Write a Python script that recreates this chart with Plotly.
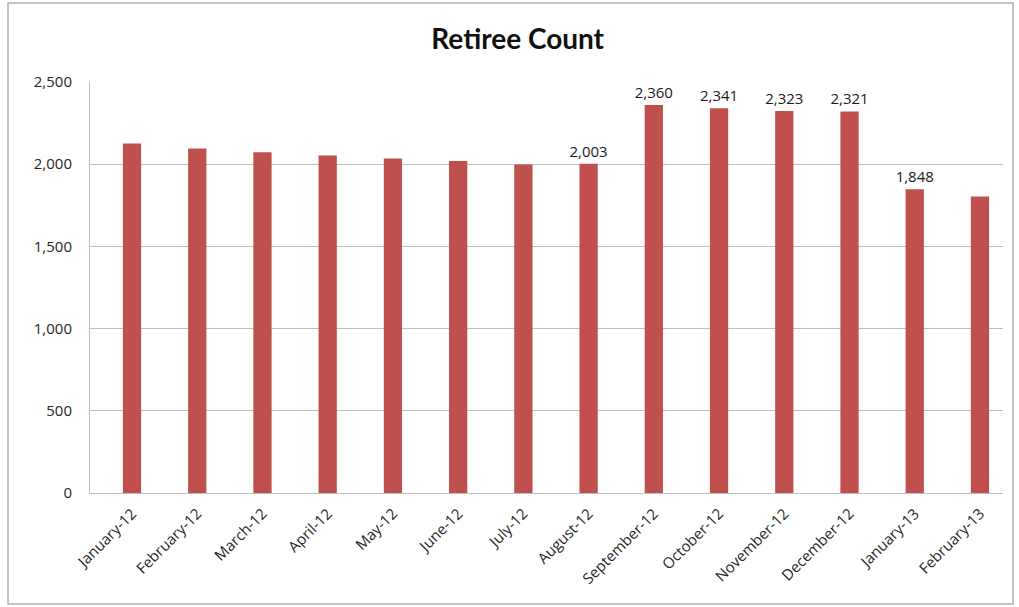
import plotly.graph_objects as go

months = ["January-12", "February-12", "March-12", "April-12", "May-12", "June-12",
          "July-12", "August-12", "September-12", "October-12", "November-12",
          "December-12", "January-13", "February-13"]
retirees = [2126, 2095, 2073, 2053, 2035, 2020, 1998, 2003, 2360, 2341, 2323, 2321, 1848, 1803]
shown_labels = [False, False, False, False, False, False, False, True, True, True, True, True, True, False]

labels = [f"{v:,}" if s else "" for v, s in zip(retirees, shown_labels)]

fig = go.Figure(go.Bar(
    x=list(range(len(months))),
    y=retirees,
    width=0.28,
    marker=dict(color="#c0504d", line=dict(width=0)),
    text=labels,
    textposition="outside",
    constraintext="none",
    textfont=dict(family="Open Sans, Lato, sans-serif", size=15, color="#1a1a1a"),
    cliponaxis=False,
))

fig.update_layout(
    width=1019, height=607,
    margin=dict(l=90, r=16, t=82, b=114),
    paper_bgcolor="white", plot_bgcolor="white",
    title=dict(text="<b>Retiree Count</b>", x=0.508, xanchor="center", y=0.935, yanchor="middle",
               font=dict(family="Lato, Open Sans, sans-serif", size=28, color="#111111")),
    showlegend=False,
    bargap=0.7,
    xaxis=dict(
        tickmode="array", tickvals=list(range(len(months))), ticktext=months,
        tickangle=-45, range=[-0.644, 13.353],
        showline=True, linecolor="#bfbfbf", linewidth=1,
        showgrid=False, ticks="",
        ticklabelstandoff=5,
        tickfont=dict(family="Open Sans, Lato, sans-serif", size=15, color="#262626"),
    ),
    yaxis=dict(
        range=[0, 2500], tickvals=[0, 500, 1000, 1500, 2000, 2500],
        tickformat=",d",
        showgrid=True, gridcolor="#bfbfbf", gridwidth=1,
        showline=True, linecolor="#bfbfbf", linewidth=1,
        zeroline=False, ticks="",
        ticklabelstandoff=14,
        tickfont=dict(family="Open Sans, Lato, sans-serif", size=15, color="#262626"),
    ),
    shapes=[dict(type="rect", xref="paper", yref="paper",
                 x0=-0.0898, x1=1.011, y0=-0.270, y1=1.192,
                 line=dict(color="#b0b0b0", width=1.5), fillcolor="rgba(0,0,0,0)", layer="below")],
)

fig.write_html("out.html")
